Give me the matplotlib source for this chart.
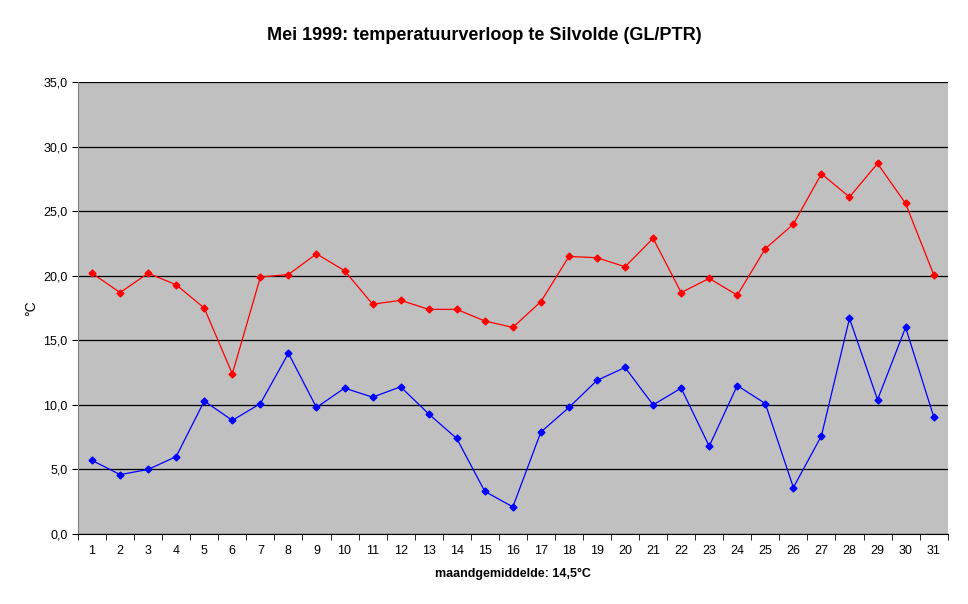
import matplotlib
matplotlib.use("Agg")
import matplotlib.pyplot as plt
import numpy as np

days = list(range(1, 32))
tmax = [20.2,18.7,20.2,19.3,17.5,12.4,19.9,20.1,21.7,20.4,17.8,18.1,17.4,17.4,16.5,16.0,18.0,21.5,21.4,20.7,22.9,18.7,19.8,18.5,22.1,24.0,27.9,26.1,28.7,25.6,20.1]
tmin = [5.7,4.6,5.0,6.0,10.3,8.8,10.1,14.0,9.8,11.3,10.6,11.4,9.3,7.4,3.3,2.1,7.9,9.8,11.9,12.9,10.0,11.3,6.8,11.5,10.1,3.6,7.6,16.7,10.4,16.0,9.1]
yticks = [0,5,10,15,20,25,30,35]

plt.rcParams['font.family'] = ['Liberation Sans', 'DejaVu Sans']
fig = plt.figure(figsize=(9.68, 6.04), dpi=100)
ax = fig.add_axes([0.0806, 0.1159, 0.8984, 0.7481])
ax.set_facecolor('#C0C0C0')
ax.plot(days, tmax, color='#FF0000', lw=0.9, marker='D', ms=3.5, mec='#FF0000')
ax.plot(days, tmin, color='#0000FF', lw=0.9, marker='D', ms=3.5, mec='#0000FF')
ax.set_xlim(0.5, 31.5)
ax.set_ylim(0, 35)
ax.set_yticks(yticks)
ax.set_yticklabels([f"{v:.1f}".replace('.', ',') for v in yticks], fontsize=9)
ax.yaxis.grid(True, color='black', lw=0.9)
ax.set_axisbelow(True)
ax.set_xticks(days)
ax.set_xticklabels([str(d) for d in days], fontsize=9)
ax.tick_params(axis='x', length=0, pad=8)
ax.set_xticks(np.arange(0.5, 32, 1), minor=True)
ax.tick_params(axis='x', which='minor', length=4, color='black')
ax.tick_params(axis='y', length=4)
for s in ['top', 'right']:
    ax.spines[s].set_visible(False)
ax.spines['left'].set_color('#808080')
ax.spines['bottom'].set_color('black')
ax.set_ylabel('°C', fontsize=10)
ax.set_xlabel('maandgemiddelde: 14,5°C', fontsize=9, fontweight='bold', labelpad=8)
fig.suptitle('Mei 1999: temperatuurverloop te Silvolde (GL/PTR)', fontsize=13, fontweight='bold', y=0.955)
fig.savefig('out.png', dpi=100, facecolor='white')
